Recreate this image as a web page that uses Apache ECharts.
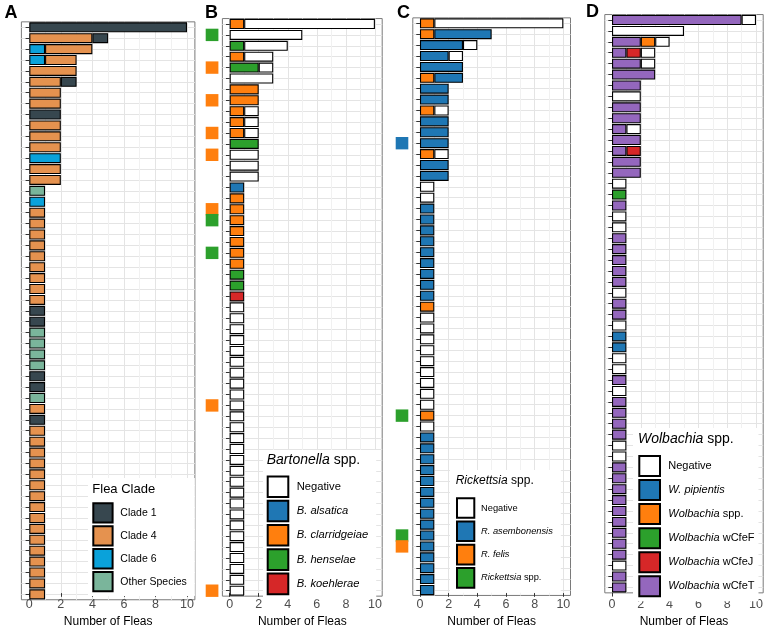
<!DOCTYPE html>
<html><head><meta charset="utf-8">
<script src="https://cdn.jsdelivr.net/npm/echarts@6/dist/echarts.min.js"></script>
<style>html,body{margin:0;padding:0;background:#fff}#c{width:767px;height:633px}</style>
</head><body><div id="c"></div>
<script>
// ---------- DATA ----------
const rows = ['1','2','3','4','5','6','7','8','9','10','11','12','13','14','15','16','17','18','19','20',
  '21','22','23','24','25','26','27','28','29','30','31','32','33','34','35','36','37','38','39','40',
  '41','42','43','44','45','46','47','48','49','50','51','52','53'];
const xTicks = [0, 2, 4, 6, 8, 10];

// Panel A: flea clade
const aClade1 = [10,1,0,0,0,1,0,0,2,0, 0,0,0,0,0,0,0,0,0,0, 0,0,0,0,0,0,1,1,0,0, 0,0,1,1,0,0,1,0,0,0, 0,0,0,0,0,0,0,0,0,0, 0,0,0];
const aClade4 = [0,4,3,2,3,2,2,2,0,2, 2,2,0,2,2,0,0,1,1,1, 1,1,1,1,1,1,0,0,0,0, 0,0,0,0,0,1,0,1,1,1, 1,1,1,1,1,1,1,1,1,1, 1,1,1];
const aClade6 = [0,0,1,1,0,0,0,0,0,0, 0,0,2,0,0,0,1,0,0,0, 0,0,0,0,0,0,0,0,0,0, 0,0,0,0,0,0,0,0,0,0, 0,0,0,0,0,0,0,0,0,0, 0,0,0];
const aOther  = [0,0,0,0,0,0,0,0,0,0, 0,0,0,0,0,1,0,0,0,0, 0,0,0,0,0,0,0,0,1,1, 1,1,0,0,1,0,0,0,0,0, 0,0,0,0,0,0,0,0,0,0, 0,0,0];

// Panel B: Bartonella
const bNegative  = [9,5,3,2,1,3,0,0,1,1, 1,0,2,2,2,0,0,0,0,0, 0,0,0,0,0,0,1,1,1,1, 1,1,1,1,1,1,1,1,1,1, 1,1,1,1,1,1,1,1,1,1, 1,1,1];
const bAlsatica  = [0,0,0,0,0,0,0,0,0,0, 0,0,0,0,0,1,0,0,0,0, 0,0,0,0,0,0,0,0,0,0, 0,0,0,0,0,0,0,0,0,0, 0,0,0,0,0,0,0,0,0,0, 0,0,0];
const bClarridg  = [1,0,0,1,0,0,2,2,1,1, 1,0,0,0,0,0,1,1,1,1, 1,1,1,0,0,0,0,0,0,0, 0,0,0,0,0,0,0,0,0,0, 0,0,0,0,0,0,0,0,0,0, 0,0,0];
const bHenselae  = [0,0,1,0,2,0,0,0,0,0, 0,2,0,0,0,0,0,0,0,0, 0,0,0,1,1,0,0,0,0,0, 0,0,0,0,0,0,0,0,0,0, 0,0,0,0,0,0,0,0,0,0, 0,0,0];
const bKoehlerae = [0,0,0,0,0,0,0,0,0,0, 0,0,0,0,0,0,0,0,0,0, 0,0,0,0,0,1,0,0,0,0, 0,0,0,0,0,0,0,0,0,0, 0,0,0,0,0,0,0,0,0,0, 0,0,0];
const bMarkerRows  = [2, 5, 8, 11, 13, 18, 19, 22, 36, 53];
const bMarkerTypes = ['henselae','clarridgeiae','clarridgeiae','clarridgeiae','clarridgeiae','clarridgeiae','henselae','henselae','clarridgeiae','clarridgeiae'];

// Panel C: Rickettsia
const cNegative = [9,0,1,1,0,0,0,0,1,0, 0,0,1,0,0,1,1,0,0,0, 0,0,0,0,0,0,0,1,1,1, 1,1,1,1,1,1,0,1,0,0, 0,0,0,0,0,0,0,0,0,0, 0,0,0];
const cAsembon  = [0,4,3,2,3,2,2,2,0,2, 2,2,0,2,2,0,0,1,1,1, 1,1,1,1,1,1,0,0,0,0, 0,0,0,0,0,0,0,0,1,1, 1,1,1,1,1,1,1,1,1,1, 1,1,1];
const cFelis    = [1,1,0,0,0,1,0,0,1,0, 0,0,1,0,0,0,0,0,0,0, 0,0,0,0,0,0,1,0,0,0, 0,0,0,0,0,0,1,0,0,0, 0,0,0,0,0,0,0,0,0,0, 0,0,0];
const cRickSpp  = [0,0,0,0,0,0,0,0,0,0, 0,0,0,0,0,0,0,0,0,0, 0,0,0,0,0,0,0,0,0,0, 0,0,0,0,0,0,0,0,0,0, 0,0,0,0,0,0,0,0,0,0, 0,0,0];
const cMarkerRows  = [12, 37, 48, 49];
const cMarkerTypes = ['asembonensis','spp','spp','felis'];

// Panel D: Wolbachia
const dNegative  = [1,5,1,1,1,0,0,2,0,0, 1,0,0,0,0,1,0,0,1,1, 0,0,0,0,0,1,0,0,1,0, 0,1,1,0,1,0,0,0,0,1, 1,0,0,0,0,0,0,0,0,0, 1,0,0];
const dPipientis = [0,0,0,0,0,0,0,0,0,0, 0,0,0,0,0,0,0,0,0,0, 0,0,0,0,0,0,0,0,0,1, 1,0,0,0,0,0,0,0,0,0, 0,0,0,0,0,0,0,0,0,0, 0,0,0];
const dWolSpp    = [0,0,1,0,0,0,0,0,0,0, 0,0,0,0,0,0,0,0,0,0, 0,0,0,0,0,0,0,0,0,0, 0,0,0,0,0,0,0,0,0,0, 0,0,0,0,0,0,0,0,0,0, 0,0,0];
const dCfeF      = [0,0,0,0,0,0,0,0,0,0, 0,0,0,0,0,0,1,0,0,0, 0,0,0,0,0,0,0,0,0,0, 0,0,0,0,0,0,0,0,0,0, 0,0,0,0,0,0,0,0,0,0, 0,0,0];
const dCfeJ      = [0,0,0,1,0,0,0,0,0,0, 0,0,1,0,0,0,0,0,0,0, 0,0,0,0,0,0,0,0,0,0, 0,0,0,0,0,0,0,0,0,0, 0,0,0,0,0,0,0,0,0,0, 0,0,0];
const dCfeT      = [9,0,2,1,2,3,2,0,2,2, 1,2,1,2,2,0,0,1,0,0, 1,1,1,1,1,0,1,1,0,0, 0,0,0,1,0,1,1,1,1,0, 0,1,1,1,1,1,1,1,1,1, 0,1,1];

// ---------- STYLE / LAYOUT ----------
const FONT = 'Liberation Sans, Arial, Helvetica, sans-serif';
const BORDER = '#7a7a7a', MAJOR = '#e4e4e4', MINOR = '#f1f1f1', TICK = '#333333', TICKLAB = '#4d4d4d';
const COL = {
  clade1:'#37474f', clade4:'#e5924f', clade6:'#0aa2da', other:'#7ab59b',
  neg:'#ffffff', blue:'#1f77b4', orange:'#ff7f0e', green:'#2ca02c', red:'#d62728', purple:'#9467bd'
};
const bMarkCol = {alsatica:COL.blue, clarridgeiae:COL.orange, henselae:COL.green, koehlerae:COL.red};
const cMarkCol = {asembonensis:COL.blue, felis:COL.orange, spp:COL.green};

const panels = [
  { id:'A', box:{left:21.4, top:21.85, width:173.5, height:577.9},
    letter:{left:4.5, top:3},
    series:[ ['A_other','Other Species',aOther,COL.other], ['A_c6','Clade 6',aClade6,COL.clade6],
             ['A_c4','Clade 4',aClade4,COL.clade4], ['A_c1','Clade 1',aClade1,COL.clade1] ],
    legendOrder:['A_c1','A_c4','A_c6','A_other'],
    legend:{left:88, top:478, padding:[24.3,8,3.6,4.3], itemWidth:19.3, itemHeight:19.3, itemGap:1.6, fontSize:10.5, textPad:2.7},
    ltitle:{text:'Flea Clade', left:92.3, cy:489.3, fontSize:13} },
  { id:'B', box:{left:222.4, top:18.55, width:159.8, height:577.6},
    letter:{left:205, top:3},
    series:[ ['B_koe','{i|B. koehlerae}',bKoehlerae,COL.red], ['B_hen','{i|B. henselae}',bHenselae,COL.green],
             ['B_cla','{i|B. clarridgeiae}',bClarridg,COL.orange], ['B_als','{i|B. alsatica}',bAlsatica,COL.blue],
             ['B_neg','Negative',bNegative,COL.neg] ],
    legendOrder:['B_neg','B_als','B_cla','B_hen','B_koe'],
    legend:{left:263, top:450, padding:[25.4,8,4,3.7], itemWidth:20.6, itemHeight:20.6, itemGap:1.7, fontSize:11.2, textPad:3.4},
    ltitle:{text:'{i|Bartonella} spp.', left:266.7, cy:460, fontSize:14},
    markers:{rows:bMarkerRows, types:bMarkerTypes, colors:bMarkCol, left:205.7, width:12.7} },
  { id:'C', box:{left:412.8, top:17.85, width:157.7, height:577.6},
    letter:{left:397, top:3},
    series:[ ['C_spp','{i|Rickettsia} spp.',cRickSpp,COL.green], ['C_fel','{i|R. felis}',cFelis,COL.orange],
             ['C_ase','{i|R. asembonensis}',cAsembon,COL.blue], ['C_neg','Negative',cNegative,COL.neg] ],
    legendOrder:['C_neg','C_ase','C_fel','C_spp'],
    legend:{left:450, top:470, padding:[27.2,8,4,6], itemWidth:17.3, itemHeight:19.6, itemGap:1.7, fontSize:9.3, textPad:1.7},
    ltitle:{text:'{i|Rickettsia} spp.', left:455.7, cy:480.7, fontSize:12},
    markers:{rows:cMarkerRows, types:cMarkerTypes, colors:cMarkCol, left:395.7, width:12.6} },
  { id:'D', box:{left:604.8, top:14.55, width:158.4, height:578.3},
    letter:{left:586, top:2},
    series:[ ['D_T','{i|Wolbachia} wCfeT',dCfeT,COL.purple], ['D_J','{i|Wolbachia} wCfeJ',dCfeJ,COL.red],
             ['D_F','{i|Wolbachia} wCfeF',dCfeF,COL.green], ['D_spp','{i|Wolbachia} spp.',dWolSpp,COL.orange],
             ['D_pip','{i|W. pipientis}',dPipientis,COL.blue], ['D_neg','Negative',dNegative,COL.neg] ],
    legendOrder:['D_neg','D_pip','D_spp','D_F','D_J','D_T'],
    legend:{left:633, top:428, padding:[27,4,4,5.3], itemWidth:20.7, itemHeight:20, itemGap:2.06, fontSize:11, textPad:3.3},
    ltitle:{text:'{i|Wolbachia} spp.', left:638, cy:439, fontSize:14} }
];

// ---------- BUILD ----------
const option = {animation:false, backgroundColor:'#fff', textStyle:{fontFamily:FONT},
  grid:[], xAxis:[], yAxis:[], series:[], legend:[], title:[]};
const nz = arr => arr.map(v => v === 0 ? '-' : v);

panels.forEach(p => {
  const b = p.box;
  const g = option.grid.length;
  option.grid.push({left:b.left, top:b.top, width:b.width, height:b.height, show:true,
    borderColor:BORDER, borderWidth:1, backgroundColor:'#fff'});
  const xi = option.xAxis.length;
  option.xAxis.push({gridIndex:g, type:'value', min:-0.5, max:10.5, interval:0.5,
    axisLine:{show:false}, axisTick:{show:false}, axisLabel:{show:false},
    splitLine:{show:true, lineStyle:{color:['rgba(0,0,0,0)', MAJOR, 'rgba(0,0,0,0)', MINOR], width:1}}});
  const yi = option.yAxis.length;
  option.yAxis.push({gridIndex:g, type:'category', data:rows, inverse:true,
    axisLine:{show:false},
    axisTick:{show:true, alignWithLabel:true, interval:0, length:3.7, lineStyle:{color:TICK}},
    axisLabel:{show:false, interval:0},
    splitLine:{show:true, interval:0, alignWithLabel:true, lineStyle:{color:MAJOR, width:1}}});
  // overlay grid carrying the 0..10 tick labels
  const g2 = option.grid.length;
  option.grid.push({left:b.left + b.width*0.5/11, width:b.width*10/11, top:b.top, height:b.height, show:false});
  option.xAxis.push({gridIndex:g2, type:'value', min:0, max:10, interval:2,
    axisLine:{show:false}, splitLine:{show:false},
    axisTick:{show:true, length:3.7, lineStyle:{color:TICK}},
    axisLabel:{color:TICKLAB, fontSize:12.5, margin:5, fontFamily:FONT},
    name:'Number of Fleas', nameLocation:'middle', nameGap:17,
    nameTextStyle:{color:'#000', fontSize:12, fontFamily:FONT}});
  option.yAxis.push({gridIndex:g2, type:'value', show:false});

  const labels = {};
  p.series.forEach(([name, label, data, color]) => {
    labels[name] = label;
    option.series.push({type:'bar', name:name, xAxisIndex:xi, yAxisIndex:yi, stack:p.id,
      barWidth:'92%', barCategoryGap:'8%', data:nz(data),
      itemStyle:{color:color, borderColor:'#000', borderWidth:1.1}});
  });

  if (p.markers) {
    const m = p.markers;
    const g3 = option.grid.length;
    option.grid.push({left:m.left, width:m.width, top:b.top, height:b.height, show:false});
    const mx = option.xAxis.length;
    option.xAxis.push({gridIndex:g3, type:'value', min:0, max:1, show:false});
    const my = option.yAxis.length;
    option.yAxis.push({gridIndex:g3, type:'category', data:rows, inverse:true, show:false});
    option.series.push({type:'scatter', xAxisIndex:mx, yAxisIndex:my, symbol:'rect',
      symbolSize:[m.width, 12.4], clip:false,
      data:m.rows.map((r,i) => ({value:[0.5, rows[r-1]], itemStyle:{color:m.colors[m.types[i]], opacity:1}}))});
  }

  const L = p.legend;
  option.legend.push({orient:'vertical', left:L.left, top:L.top, padding:L.padding, backgroundColor:'#fff',
    itemWidth:L.itemWidth, itemHeight:L.itemHeight, itemGap:L.itemGap, icon:'rect', selectedMode:false,
    data:p.legendOrder, formatter:name => labels[name],
    textStyle:{color:'#000', fontSize:L.fontSize, fontFamily:FONT, padding:[0,0,0,L.textPad],
      rich:{i:{fontStyle:'italic', fontSize:L.fontSize, fontFamily:FONT, color:'#000'}}}});

  const T = p.ltitle, lh = Math.round(T.fontSize*1.2);
  option.title.push({text:T.text, left:T.left, top:T.cy - lh/2, padding:0, z:10,
    textStyle:{color:'#000', fontSize:T.fontSize, fontWeight:'normal', fontFamily:FONT, lineHeight:lh,
      rich:{i:{fontStyle:'italic', fontSize:T.fontSize, fontFamily:FONT, color:'#000', lineHeight:lh}}}});
  option.title.push({text:p.id, left:p.letter.left, top:p.letter.top, padding:0,
    textStyle:{color:'#000', fontSize:18, fontWeight:'bold', fontFamily:FONT, lineHeight:20}});
});

const chart = echarts.init(document.getElementById('c'), null, {renderer:'canvas'});
chart.setOption(option);
</script></body></html>
